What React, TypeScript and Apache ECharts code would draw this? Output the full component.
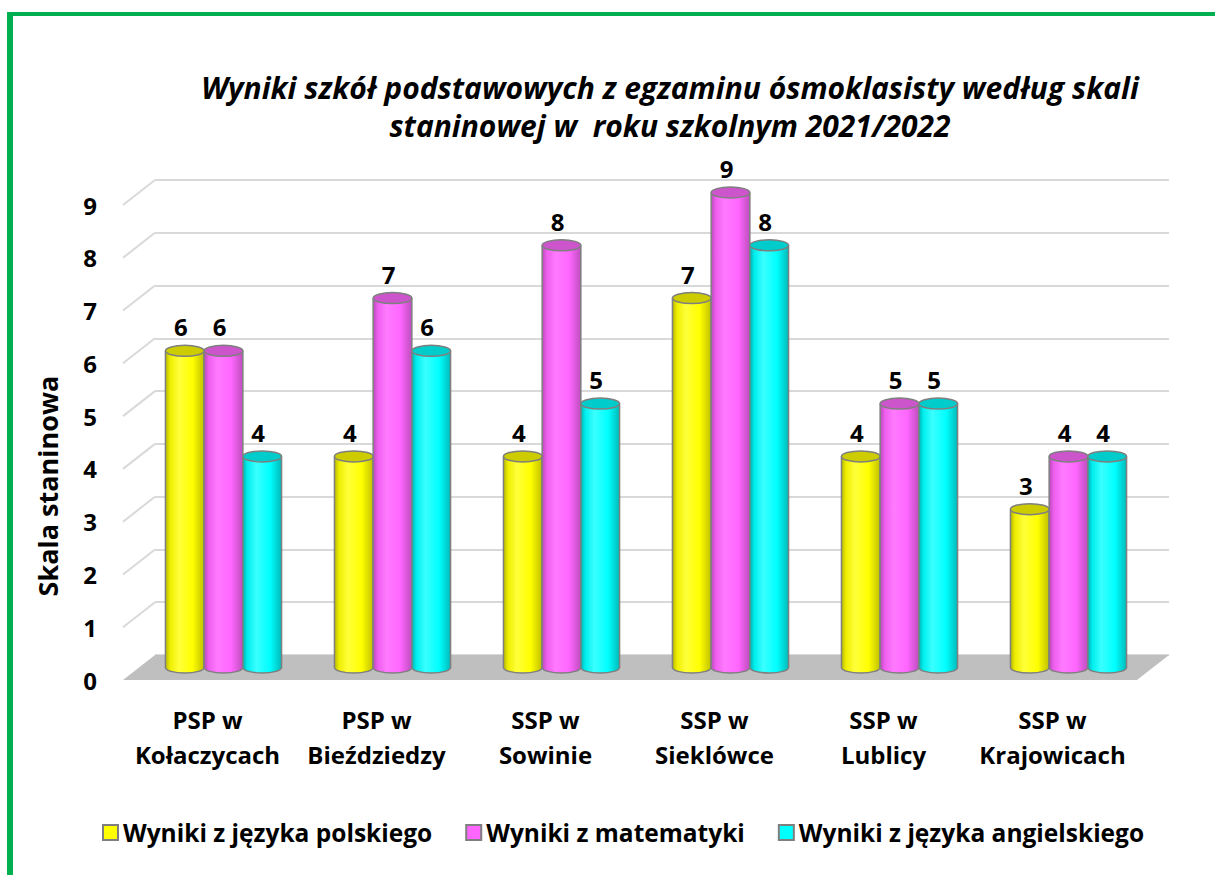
import React, { useEffect, useRef } from "react";
import * as echarts from "echarts";

const categories = [
  "PSP w\nKołaczycach",
  "PSP w\nBieździedzy",
  "SSP w\nSowinie",
  "SSP w\nSieklówce",
  "SSP w\nLublicy",
  "SSP w\nKrajowicach",
];
const seriesNames = [
  "Wyniki z języka polskiego",
  "Wyniki z matematyki",
  "Wyniki z języka angielskiego",
];
const polish = [6, 4, 4, 7, 4, 3];
const math = [6, 7, 8, 9, 5, 4];
const english = [4, 6, 5, 8, 5, 4];
const tickValues = [0, 1, 2, 3, 4, 5, 6, 7, 8, 9];

const titleLines = [
  "Wyniki szkół podstawowych z egzaminu ósmoklasisty według skali",
  "staninowej w  roku szkolnym 2021/2022",
];
const yAxisName = "Skala staninowa";

const FONT = "'Open Sans', sans-serif";

// geometry of the pseudo-3D plot
const L = 123;
const T = 180;
const W = 1014;
const H = 475;
const DX = 32;
const DY = 25;

const palettes = [
  {
    base: "#FFFF00",
    top: "#CCCC00",
    stops: ["#B8B800", "#EEEE00", "#FFFF3A", "#FFFF00", "#C0C000"],
  },
  {
    base: "#FF66FF",
    top: "#CC55CC",
    stops: ["#B84AB8", "#EE5EEE", "#FF7AFF", "#FF66FF", "#BE4EBE"],
  },
  {
    base: "#00FFFF",
    top: "#00CCCC",
    stops: ["#00B4B4", "#00EEEE", "#3AFFFF", "#00FFFF", "#00BABA"],
  },
];

function gradient(stops: string[]) {
  return {
    type: "linear",
    x: 0,
    y: 0,
    x2: 1,
    y2: 0,
    colorStops: [
      { offset: 0, color: stops[0] },
      { offset: 0.12, color: stops[1] },
      { offset: 0.35, color: stops[2] },
      { offset: 0.7, color: stops[3] },
      { offset: 1, color: stops[4] },
    ],
  };
}

function cylinderRenderer(sIdx: number) {
  const pal = palettes[sIdx];
  return (params: any, api: any) => {
    const cat = api.value(0);
    const v = api.value(1);
    const top = api.coord([cat, v]);
    const base = api.coord([cat, 0]);
    const band = api.size([1, 0])[0];
    const w = band * 0.229;
    const cx = top[0] + (sIdx - 1) * w;
    const x0 = cx - w / 2;
    const ry = 5.5;
    const stroke = "#7F7F7F";
    return {
      type: "group",
      children: [
        {
          type: "ellipse",
          shape: { cx, cy: base[1], rx: w / 2, ry },
          style: { fill: gradient(pal.stops), stroke, lineWidth: 1.5 },
        },
        {
          type: "rect",
          shape: { x: x0, y: top[1], width: w, height: base[1] - top[1] },
          style: { fill: gradient(pal.stops) },
        },
        {
          type: "line",
          shape: { x1: x0, y1: top[1], x2: x0, y2: base[1] },
          style: { stroke, lineWidth: 1.5 },
        },
        {
          type: "line",
          shape: { x1: x0 + w, y1: top[1], x2: x0 + w, y2: base[1] },
          style: { stroke, lineWidth: 1.5 },
        },
        {
          type: "ellipse",
          shape: { cx, cy: top[1], rx: w / 2, ry },
          style: { fill: pal.top, stroke, lineWidth: 1.5 },
        },
        {
          type: "text",
          x: cx - 4,
          y: top[1] - 24,
          style: {
            text: String(v),
            fontSize: 24,
            fontWeight: "bold",
            fontFamily: FONT,
            fill: "#000",
            align: "center",
            verticalAlign: "middle",
          },
        },
      ],
    };
  };
}

function wallRenderer(params: any, api: any) {
  const v = api.value(0);
  const y = api.coord([0, v])[1];
  const x = params.coordSys.x;
  const w = params.coordSys.width;
  const children: any[] = [];
  if (v === 0) {
    children.push({
      type: "polygon",
      shape: {
        points: [
          [x, y],
          [x + w, y],
          [x + w - DX, y + DY],
          [x - DX, y + DY],
        ],
      },
      style: { fill: "#BFBFBF" },
    });
  } else {
    children.push({
      type: "line",
      shape: { x1: x - DX, y1: y + DY, x2: x, y2: y },
      style: { stroke: "#D9D9D9", lineWidth: 2 },
    });
  }
  return { type: "group", children };
}

export default function App() {
  const ref = useRef<HTMLDivElement>(null);
  useEffect(() => {
    if (!ref.current) return;
    const chart = echarts.init(ref.current, undefined, { renderer: "svg" });
    const grids = [
      { left: L + DX, top: T, width: W, height: H },
      { left: L + DX / 2, top: T + DY / 2, width: W, height: H },
      { left: L, top: T + DY, width: W, height: H },
    ];
    const valueSets = [polish, math, english];
    const titleStyle = {
      fontSize: 30,
      fontWeight: "bold",
      fontStyle: "italic",
      fontFamily: FONT,
      fill: "#000",
      align: "center",
      verticalAlign: "middle",
    };
    chart.setOption({
      animation: false,
      backgroundColor: "#FFFFFF",
      textStyle: { fontFamily: FONT },
      grid: grids,
      xAxis: [0, 1, 2].map((i) => ({
        type: "category",
        gridIndex: i,
        data: categories,
        show: i === 2,
        axisLine: { show: false },
        axisTick: { show: false },
        axisLabel: {
          show: i === 2,
          margin: 22,
          fontSize: 24,
          lineHeight: 35,
          fontWeight: "bold",
          color: "#000",
          fontFamily: FONT,
          interval: 0,
        },
      })),
      yAxis: [0, 1, 2].map((i) => ({
        type: "value",
        gridIndex: i,
        min: 0,
        max: 9,
        interval: 1,
        show: i !== 1,
        axisLine: { show: false },
        axisTick: { show: false },
        splitLine: {
          show: i === 0,
          lineStyle: { color: "#D9D9D9", width: 2 },
        },
        axisLabel: {
          show: i === 2,
          margin: 26,
          fontSize: 24,
          fontWeight: "bold",
          color: "#000",
          fontFamily: FONT,
        },
      })),
      legend: {
        left: 97,
        top: 815,
        icon: "rect",
        itemWidth: 15,
        itemHeight: 15,
        itemGap: 33,
        data: seriesNames,
        itemStyle: { borderColor: "#7F7F7F", borderWidth: 2 },
        textStyle: {
          fontSize: 24.5,
          fontWeight: "bold",
          color: "#000",
          fontFamily: FONT,
        },
      },
      graphic: [
        {
          type: "rect",
          shape: { x: 7, y: 12, width: 6, height: 880 },
          style: { fill: "#00B050" },
        },
        {
          type: "rect",
          shape: { x: 7, y: 12, width: 1220, height: 4 },
          style: { fill: "#00B050" },
        },
        {
          type: "text",
          x: 670,
          y: 87,
          style: { ...titleStyle, text: titleLines[0] },
        },
        {
          type: "text",
          x: 670,
          y: 125,
          style: { ...titleStyle, text: titleLines[1] },
        },
        {
          type: "text",
          x: 47,
          y: 486,
          rotation: Math.PI / 2,
          style: {
            text: yAxisName,
            fontSize: 27,
            fontWeight: "bold",
            fontFamily: FONT,
            fill: "#000",
            align: "center",
            verticalAlign: "middle",
          },
        },
      ],
      series: [
        {
          type: "custom",
          name: "walls",
          xAxisIndex: 0,
          yAxisIndex: 0,
          data: tickValues.map((t) => [t]),
          renderItem: wallRenderer,
          silent: true,
        },
        ...valueSets.map((vals, s) => ({
          type: "custom",
          name: seriesNames[s],
          xAxisIndex: 1,
          yAxisIndex: 1,
          itemStyle: { color: palettes[s].base },
          data: vals.map((v, i) => [i, v]),
          renderItem: cylinderRenderer(s),
        })),
      ],
    });
    return () => chart.dispose();
  }, []);
  return (
    <div
      ref={ref}
      style={{ position: "fixed", left: 0, top: 0, width: 1215, height: 875 }}
    />
  );
}
